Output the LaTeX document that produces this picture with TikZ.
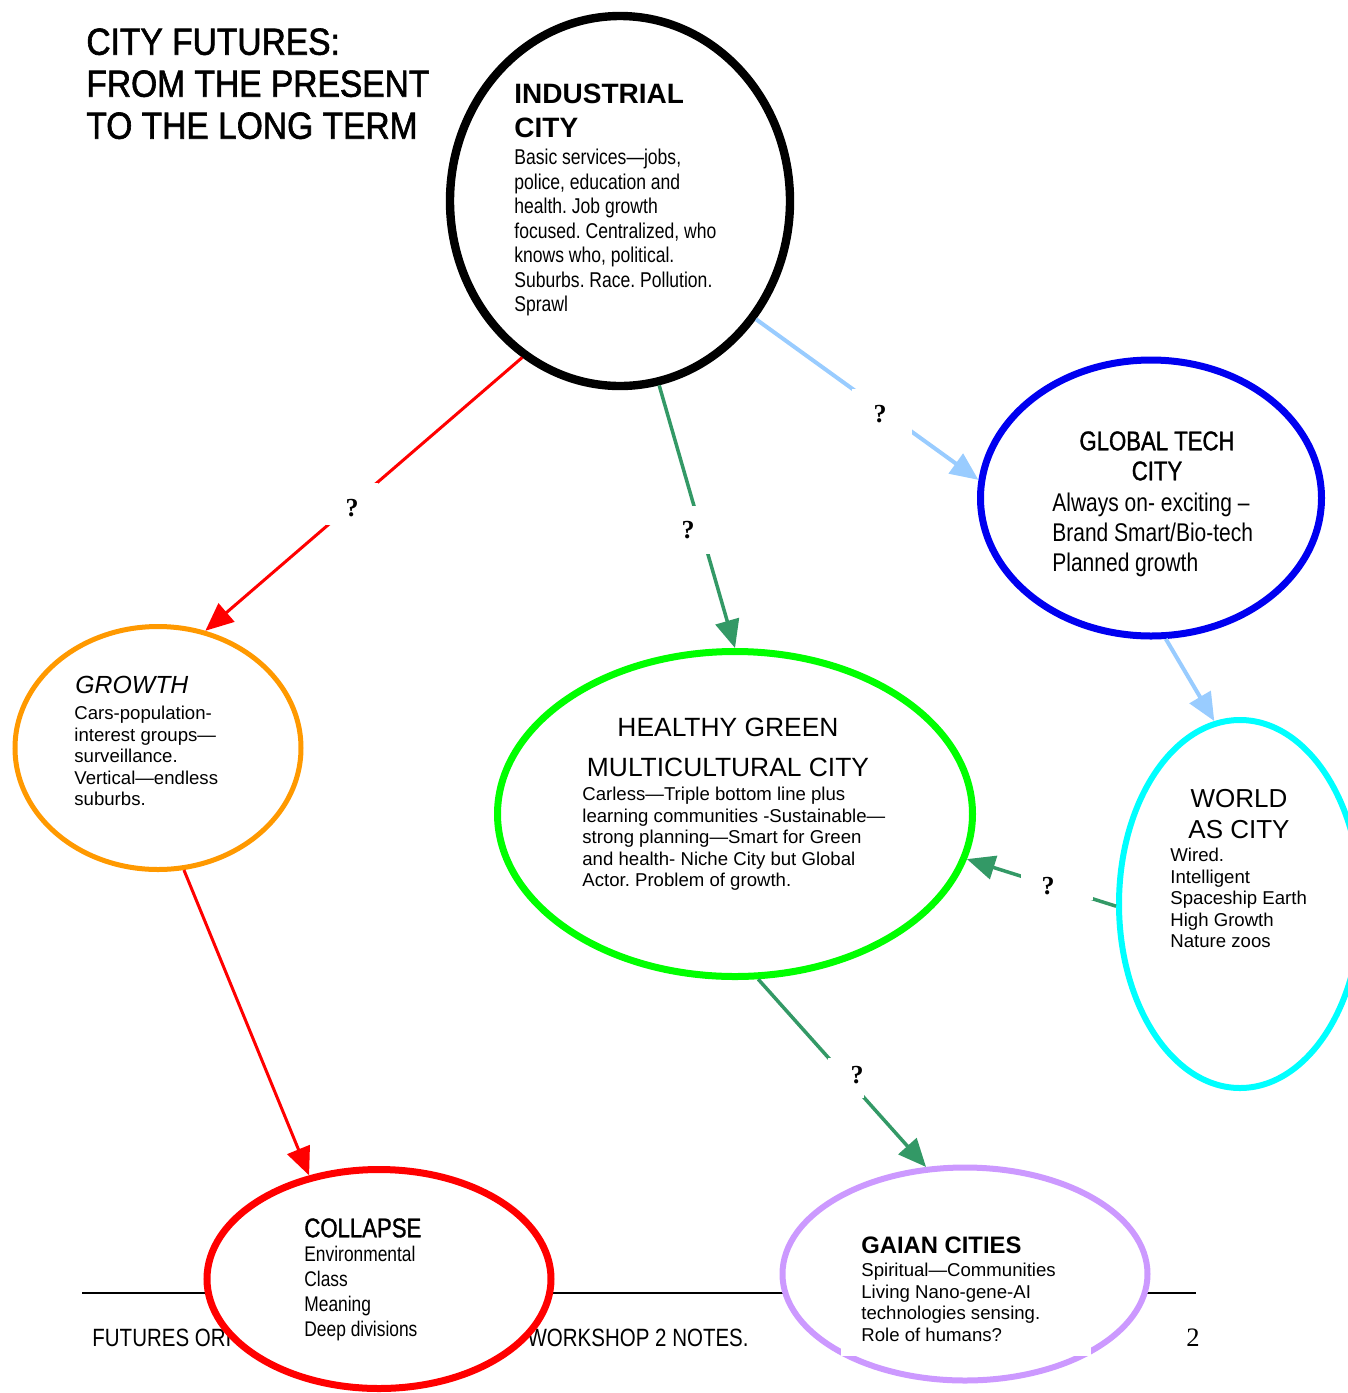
\documentclass[tikz,border=0pt]{standalone}
\usepackage{fontspec}
\setmainfont{Liberation Sans}
\newfontfamily\narrowf[FakeStretch=0.82]{Liberation Sans}
\newfontfamily\narrowhf[FakeStretch=0.82,FakeBold=1.3]{Liberation Sans}
\newfontfamily\titlef[FakeStretch=0.89,FakeBold=1.6]{Liberation Sans}
\newfontfamily\serf{Liberation Serif}
\usetikzlibrary{shapes.geometric,arrows.meta}
\definecolor{cOrange}{HTML}{FF9900}
\definecolor{cGreen}{HTML}{00FF00}
\definecolor{cCyan}{HTML}{00FFFF}
\definecolor{cBlue}{HTML}{0000F0}
\definecolor{cRed}{HTML}{FF0000}
\definecolor{cPurple}{HTML}{CC99FF}
\definecolor{cDkGreen}{HTML}{339966}
\definecolor{cLtBlue}{HTML}{99CCFF}
\frenchspacing
\begin{document}
\begin{tikzpicture}[x=0.5pt,y=-0.5pt,
  bubble/.style={ellipse, draw, fill=white, inner sep=0pt},
  txt/.style={anchor=north west, inner sep=0pt, align=left},
  ctxt/.style={anchor=north, inner sep=0pt, align=center},
  tip/.style={-{Triangle[length=14pt,width=12pt]}},
  redarr/.style={tip, draw=cRed, line width=1.5pt},
  grnarr/.style={tip, draw=cDkGreen, line width=1.75pt},
  bluarr/.style={tip, draw=cLtBlue, line width=2pt},
  gapbox/.style={fill=white, inner sep=0pt},
  qmark/.style={inner sep=0pt, font=\serf\bfseries\fontsize{13}{15}\selectfont},
  foot/.style={inner sep=0pt, font=\narrowf\fontsize{12.5}{15}\selectfont}]
\useasboundingbox (0,0) rectangle (1348,1393);

% footer
\draw[line width=1pt] (82,1293) -- (1196,1293);
\node[foot, anchor=base west] (footl) at (92,1346) {FUTURES ORI};
\node[foot, anchor=base east] (footr) at (749,1346) {WORKSHOP 2 NOTES.};
\node[inner sep=0pt, anchor=base west, font=\serf\fontsize{13.3}{15}\selectfont] (pnum) at (1186,1346) {2};

% bubbles
\node[bubble, draw=black, line width=4.2pt, minimum width=170pt, minimum height=185pt] (ind) at (620,201) {};
\node[bubble, draw=cBlue, line width=3.5pt, minimum width=170.5pt, minimum height=138pt] (glob) at (1151,498) {};
\node[bubble, draw=cOrange, line width=2.5pt, minimum width=143pt, minimum height=121.5pt] (grow) at (158,748) {};
\node[bubble, draw=cGreen, line width=3.5pt, minimum width=237.5pt, minimum height=162.5pt] (green) at (735,814) {};
\node[bubble, draw=cCyan, line width=3pt, minimum width=121pt, minimum height=184pt] (world) at (1240,904) {};
\node[bubble, draw=cRed, line width=3.5pt, minimum width=172pt, minimum height=109.5pt] (coll) at (379,1279) {};
\node[bubble, draw=cPurple, line width=3pt, minimum width=182.5pt, minimum height=106.5pt] (gaia) at (965,1274) {};
\fill[white] (841,1346) rectangle (1091,1356);

% connectors
\draw[redarr] (ind.238) -- (grow.68);
\draw[grnarr] (ind.282.5) -- (green.90);
\draw[bluarr] (ind.319.6) -- (glob.174.8);
\draw[bluarr] (glob.276) -- (world.98);
\draw[redarr] (grow.282) -- (coll.124);
\draw[grnarr] (world.181) -- (green.349);
\draw[grnarr] (green.278.6) -- (gaia.110.5);

% gaps and question marks
\node[gapbox, minimum width=26pt, minimum height=21pt] (g1) at (352,504) {};
\node[qmark] (q1) at (352,508) {?};
\node[gapbox, minimum width=20pt, minimum height=24pt] (g2) at (693,530) {};
\node[qmark] (q2) at (688,530) {?};
\node[gapbox, minimum width=30pt, minimum height=23pt] (g3) at (882,412) {};
\node[qmark] (q3) at (880,414) {?};
\node[gapbox, minimum width=36pt, minimum height=13pt] (g4) at (1057,887) {};
\node[qmark] (q4) at (1048,886) {?};
\node[gapbox, minimum width=18pt, minimum height=20pt] (g5) at (846,1078) {};
\node[qmark] (q5) at (857,1075) {?};

% title
\node[txt, font=\titlef\fontsize{18.85}{21}\selectfont] (title) at (86,28)
  {CITY FUTURES:\\FROM THE PRESENT\\TO THE LONG TERM};

% industrial
\node[txt, font=\bfseries\fontsize{14}{17}\selectfont] (indh) at (514,84) {INDUSTRIAL\\CITY};
\node[txt, font=\narrowf\fontsize{10.7}{12.25}\selectfont] (indb) at (514,149)
  {Basic services—jobs,\\police, education and\\health. Job growth\\focused. Centralized, who\\knows who, political.\\Suburbs. Race. Pollution.\\Sprawl};

% global tech
\node[ctxt, font=\narrowhf\fontsize{13.5}{15}\selectfont] (globh) at (1157,431) {GLOBAL TECH\\CITY};
\node[txt, font=\narrowf\fontsize{12.8}{15}\selectfont] (globb) at (1052,493)
  {Always on- exciting –\\Brand Smart/Bio-tech\\Planned growth};

% growth
\node[txt, font=\itshape\fontsize{12.4}{15}\selectfont] (growh) at (75,676) {GROWTH};
\node[txt, font=\fontsize{9.3}{10.75}\selectfont] (growb) at (74,706)
  {Cars-population-\\interest groups—\\surveillance.\\Vertical—endless\\suburbs.};

% healthy green
\node[ctxt, font=\fontsize{13.2}{20}\selectfont] (greenh) at (728,718) {HEALTHY GREEN\\MULTICULTURAL CITY};
\node[txt, font=\fontsize{9.3}{10.75}\selectfont] (greenb) at (582,787)
  {Carless—Triple bottom line plus\\learning communities -Sustainable—\\strong planning—Smart for Green\\and health- Niche City but Global\\Actor. Problem of growth.};

% world as city
\node[ctxt, font=\fontsize{13}{15.5}\selectfont] (worldh) at (1239,789) {WORLD\\AS CITY};
\node[txt, font=\fontsize{9.3}{10.75}\selectfont] (worldb) at (1170,848)
  {Wired.\\Intelligent\\Spaceship Earth\\High Growth\\Nature zoos};

% collapse
\node[txt, font=\narrowhf\fontsize{13.5}{15}\selectfont] (collh) at (304,1218) {COLLAPSE};
\node[txt, font=\narrowf\fontsize{10.6}{12.5}\selectfont] (collb) at (304,1246)
  {Environmental\\Class\\Meaning\\Deep divisions};

% gaian
\node[txt, font=\bfseries\fontsize{11.9}{14}\selectfont] (gaiah) at (861,1236) {GAIAN CITIES};
\node[txt, font=\fontsize{9.3}{10.75}\selectfont] (gaiab) at (861,1263)
  {Spiritual—Communities\\Living Nano-gene-AI\\technologies sensing.\\Role of humans?};
\end{tikzpicture}
\end{document}
